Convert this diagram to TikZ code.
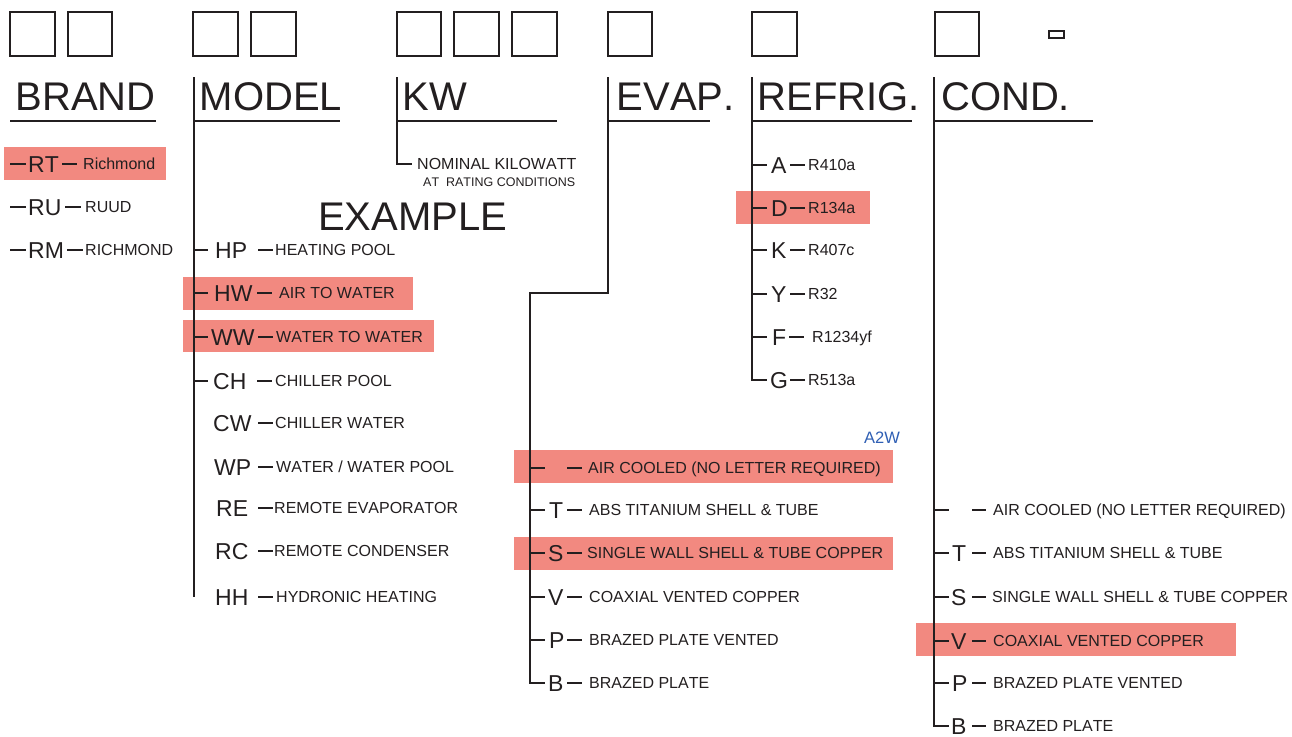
\documentclass[tikz,border=0pt]{standalone}
\usepackage{fontspec}
\setmainfont[Kerning=Off]{Liberation Sans}
\definecolor{ink}{HTML}{231F20}
\definecolor{hlc}{RGB}{242,137,128}
\definecolor{a2wc}{RGB}{47,95,180}
\newcommand\crow[9]{%
  \node[code] (c#1) at (#3,#2) {#4};
  \draw[ln] (#5,#2) -- (#6,#2);
  \node[#9] (d#1) at (#7,#2) {#8};}
\begin{document}
\begin{tikzpicture}[x=1pt,y=-1pt,
  ln/.style={draw=ink,line width=2pt},
  boxr/.style={draw=ink,line width=2pt},
  hlbox/.style={fill=hlc},
  hdr/.style={font=\fontsize{40}{48}\selectfont,inner sep=0pt,anchor=west,text height=28.6pt,text depth=0pt,text=ink},
  code/.style={font=\fontsize{23}{27}\selectfont,inner sep=0pt,anchor=west,text height=16.5pt,text depth=0pt,text=ink},
  desc/.style={font=\fontsize{16}{19}\selectfont,inner sep=0pt,anchor=west,text height=11.5pt,text depth=0pt,text=ink},
  smalldesc/.style={font=\fontsize{12.5}{15}\selectfont,inner sep=0pt,anchor=west,text height=9pt,text depth=0pt,text=ink}]
\fill[white] (0,0) rectangle (1292,736);
\useasboundingbox (0,0) rectangle (1292,736);

% highlights
\fill[hlbox] (4,147) rectangle (166,180);
\fill[hlbox] (183,277) rectangle (413,310);
\fill[hlbox] (183,320) rectangle (434,352);
\fill[hlbox] (736,191) rectangle (870,224);
\fill[hlbox] (514,450) rectangle (893,483);
\fill[hlbox] (514,537) rectangle (893,570);
\fill[hlbox] (916,623) rectangle (1236,656);

% code boxes
\draw[boxr] (10,12) rectangle (55,56);
\draw[boxr] (68,12) rectangle (112,56);
\draw[boxr] (193,12) rectangle (238,56);
\draw[boxr] (251,12) rectangle (296,56);
\draw[boxr] (397,12) rectangle (441,56);
\draw[boxr] (454,12) rectangle (499,56);
\draw[boxr] (512,12) rectangle (557,56);
\draw[boxr] (608,12) rectangle (652,56);
\draw[boxr] (752,12) rectangle (797,56);
\draw[boxr] (935,12) rectangle (979,56);
\draw[line width=1.5pt,draw=ink] (1049,31) rectangle (1064,38);

% headers
\node[hdr] (hBrand) at (15.5,96) {BRAND};
\node[hdr] (hModel) at (199.5,96) {MODEL};
\node[hdr] (hKw) at (402.5,96) {KW};
\node[hdr] (hEvap) at (616.5,96) {EVAP.};
\node[hdr] (hRefrig) at (757.5,96) {REFRIG.};
\node[hdr] (hCond) at (941,96) {COND.};
\node[hdr] (example) at (318,216) {EXAMPLE};

\draw[ln] (10,121) -- (156,121);
\coordinate (mtop) at (194,77);
\coordinate (ktop) at (397,77);
\coordinate (etop) at (608,77);
\coordinate (rtop) at (752,77);
\coordinate (ctop) at (934,77);
\draw[ln] (mtop |- 0,121) -- (340,121);
\draw[ln] (ktop |- 0,121) -- (557,121);
\draw[ln] (etop |- 0,121) -- (710,121);
\draw[ln] (rtop |- 0,121) -- (912,121);
\draw[ln] (ctop |- 0,121) -- (1093,121);

% BRAND
\crow{RT}{164}{28}{RT}{62}{77}{83}{Richmond}{desc}
\crow{RU}{207}{28}{RU}{65}{81}{85}{RUUD}{desc}
\crow{RM}{250}{28}{RM}{67}{83}{85}{RICHMOND}{desc}
\foreach \n in {RT,RU,RM} \draw[ln] (10,0 |- c\n.west) -- ([xshift=-2pt]c\n.west);

% KW
\node[desc] (nomkw) at (417,164) {NOMINAL KILOWATT};
\node[smalldesc] (atrc) at (423,181.5) {AT\ \ RATING CONDITIONS};
\draw[ln] (ktop) -- (ktop |- nomkw.west) -- (412,0 |- nomkw.west);

% MODEL
\crow{HP}{250}{215}{HP}{258}{273}{275}{HEATING POOL}{desc}
\crow{HW}{293}{214}{HW}{257}{272}{279}{AIR TO WATER}{desc}
\crow{WW}{337}{211}{WW}{258}{273}{276}{WATER TO WATER}{desc}
\crow{CH}{381}{213}{CH}{257}{272}{275}{CHILLER POOL}{desc}
\crow{CW}{423}{213}{CW}{258}{273}{275}{CHILLER WATER}{desc}
\crow{WP}{467}{214}{WP}{258}{273}{276}{WATER / WATER POOL}{desc}
\crow{RE}{508}{216}{RE}{258}{273}{274}{REMOTE EVAPORATOR}{desc}
\crow{RC}{551}{215}{RC}{258}{273}{274}{REMOTE CONDENSER}{desc}
\crow{HH}{597}{215}{HH}{258}{273}{276}{HYDRONIC HEATING}{desc}
\draw[ln] (mtop) -- (mtop |- cHH.west);
\foreach \n in {HP,HW,WW,CH} \draw[ln] (mtop |- c\n.west) -- ++(14,0);

% REFRIG
\crow{RA}{165}{771}{A}{790}{805}{808}{R410a}{desc}
\crow{RD}{208}{771}{D}{790}{805}{808}{R134a}{desc}
\crow{RK}{250}{771}{K}{790}{805}{808}{R407c}{desc}
\crow{RY}{294}{771}{Y}{790}{805}{808}{R32}{desc}
\crow{RF}{337}{772}{F}{789}{804}{812}{R1234yf}{desc}
\crow{RG}{380}{770}{G}{790}{805}{808}{R513a}{desc}
\draw[ln] (rtop) -- (rtop |- cRG.west) -- ++(15,0);
\foreach \n in {RA,RD,RK,RY,RF} \draw[ln] (rtop |- c\n.west) -- ++(15,0);

% EVAP
\coordinate (ebend) at (608,293);
\coordinate (eline) at (530,293);
\node[desc] (dEair) at (588,468) {AIR COOLED (NO LETTER REQUIRED)};
\draw[ln] (567,468) -- (582,468);
\node[font=\fontsize{16.5}{19}\selectfont,text=a2wc,inner sep=0pt,anchor=west] (a2w) at (864,438) {A2W};
\crow{ET}{510}{549}{T}{567}{582}{589}{ABS TITANIUM SHELL \& TUBE}{desc}
\crow{ES}{553}{548}{S}{567}{582}{587}{SINGLE WALL SHELL \& TUBE COPPER}{desc}
\crow{EV}{597}{548}{V}{567}{582}{589}{COAXIAL VENTED COPPER}{desc}
\crow{EP}{640}{549}{P}{567}{582}{589}{BRAZED PLATE VENTED}{desc}
\crow{EB}{683}{548}{B}{567}{582}{589}{BRAZED PLATE}{desc}
\draw[ln] (etop) -- (ebend) -- (eline) -- (eline |- cEB.west) -- ++(15,0);
\draw[ln] (eline |- dEair.west) -- ++(15,0);
\foreach \n in {ET,ES,EV,EP} \draw[ln] (eline |- c\n.west) -- ++(15,0);

% COND
\node[desc] (dCair) at (993,510) {AIR COOLED (NO LETTER REQUIRED)};
\draw[ln] (972,510) -- (986,510);
\crow{CT}{553}{952}{T}{972}{986}{993}{ABS TITANIUM SHELL \& TUBE}{desc}
\crow{CS}{597}{951}{S}{972}{986}{992}{SINGLE WALL SHELL \& TUBE COPPER}{desc}
\crow{CV}{641}{951}{V}{972}{986}{993}{COAXIAL VENTED COPPER}{desc}
\crow{CP}{683}{952}{P}{972}{986}{993}{BRAZED PLATE VENTED}{desc}
\crow{CB}{726}{951}{B}{972}{986}{993}{BRAZED PLATE}{desc}
\draw[ln] (ctop) -- (ctop |- cCB.west) -- ++(15,0);
\draw[ln] (ctop |- dCair.west) -- ++(15,0);
\foreach \n in {CT,CS,CV,CP} \draw[ln] (ctop |- c\n.west) -- ++(15,0);
\end{tikzpicture}
\end{document}
